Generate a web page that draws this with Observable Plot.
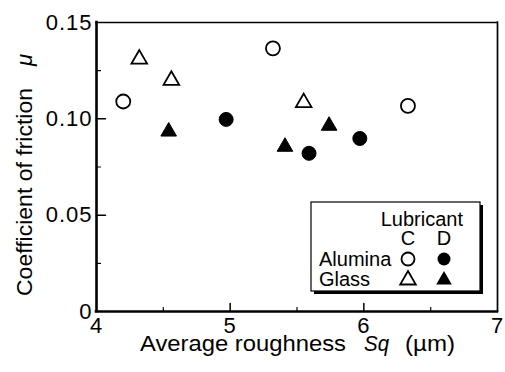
<!DOCTYPE html>
<html><head><meta charset="utf-8">
<script src="https://cdn.jsdelivr.net/npm/d3@7"></script>
<script src="https://cdn.jsdelivr.net/npm/@observablehq/plot@0.6"></script>
<style>body{margin:0;background:#fff} #chart svg{font-family:"Liberation Sans",Arial,sans-serif}</style>
</head><body><div id="chart"></div>
<script>
// Data (Sq in µm, coefficient of friction)
const aluminaC_x = [4.20, 5.32, 6.33];
const aluminaC_y = [0.109, 0.1366, 0.1067];
const aluminaD_x = [4.97, 5.59, 5.97];
const aluminaD_y = [0.0997, 0.0821, 0.0898];
const glassC_x = [4.32, 4.56, 5.55];
const glassC_y = [0.131, 0.120, 0.1084];
const glassD_x = [4.54, 5.41, 5.74];
const glassD_y = [0.0934, 0.0855, 0.0964];

const xTicks = [4, 5, 6, 7];
const xTickLabels = ["4", "5", "6", "7"];
const xMinor = [4.5, 5.5, 6.5];
const yTicks = [0, 0.05, 0.10, 0.15];
const yTickLabels = ["0", "0.05", "0.10", "0.15"];
const yMinor = [0.025, 0.075, 0.125];

const legendTitle = "Lubricant";
const legendCols = ["C", "D"];
const legendRows = ["Alumina", "Glass"];
const xLabelParts = ["Average roughness", "Sq", "(\u00b5m)"];
const yLabelParts = ["Coefficient of friction", "\u03bc"];

const pts = (xs, ys) => xs.map((x, i) => ({x, y: ys[i]}));
const tickShape = {draw(ctx, l) { ctx.moveTo(0, 0); ctx.lineTo(0, -l); }};
const inner = (v) => v.slice(1, -1);

const plot = Plot.plot({
  width: 505, height: 372,
  marginLeft: 96, marginRight: 8, marginTop: 22, marginBottom: 61,
  x: {domain: [4, 7]},
  y: {domain: [0, 0.15]},
  style: {fontFamily: "'Liberation Sans', Arial, sans-serif", color: "black", background: "white", overflow: "visible"},
  marks: [
    Plot.axisX(xTicks, {tickSize: 0, tickPadding: 6, fontSize: 22, label: null,
      tickFormat: d => xTickLabels[xTicks.indexOf(d)]}),
    Plot.axisY(yTicks, {tickSize: 0, tickPadding: 4, fontSize: 22, label: null,
      tickFormat: d => yTickLabels[yTicks.indexOf(d)]}),
    // inward ticks
    Plot.vector(inner(xTicks), {x: d => d, frameAnchor: "bottom", length: 8, anchor: "start", shape: tickShape, stroke: "black", strokeWidth: 1.5}),
    Plot.vector(xMinor, {x: d => d, frameAnchor: "bottom", length: 4, anchor: "start", shape: tickShape, stroke: "black", strokeWidth: 1.2}),
    Plot.vector(inner(yTicks), {y: d => d, frameAnchor: "left", rotate: 90, length: 9, anchor: "start", shape: tickShape, stroke: "black", strokeWidth: 1.5}),
    Plot.vector(yMinor, {y: d => d, frameAnchor: "left", rotate: 90, length: 4, anchor: "start", shape: tickShape, stroke: "black", strokeWidth: 1.2}),
    // frame
    Plot.ruleY([0.15], {stroke: "black", strokeWidth: 1.5, strokeLinecap: "square"}),
    Plot.ruleX([7], {stroke: "black", strokeWidth: 1.7, strokeLinecap: "square"}),
    Plot.ruleX([4], {stroke: "black", strokeWidth: 2.6, strokeLinecap: "square"}),
    Plot.ruleY([0], {stroke: "black", strokeWidth: 2.6, strokeLinecap: "square"}),
    // data
    Plot.dot(pts(aluminaC_x, aluminaC_y), {x: "x", y: "y", r: 7, fill: "white", stroke: "black", strokeWidth: 1.8}),
    Plot.dot(pts(aluminaD_x, aluminaD_y), {x: "x", y: "y", r: 7, fill: "black", stroke: "black", strokeWidth: 1}),
    Plot.dot(pts(glassC_x, glassC_y), {x: "x", y: "y", r: 5.8, symbol: "triangle", fill: "white", stroke: "black", strokeWidth: 1.8}),
    Plot.dot(pts(glassD_x, glassD_y), {x: "x", y: "y", r: 5.8, symbol: "triangle", fill: "black", stroke: "black", strokeWidth: 1})
  ]
});
document.getElementById("chart").appendChild(plot);

const svg = d3.select(plot);
const font = "'Liberation Sans', Arial, sans-serif";
svg.selectAll("g[aria-label='x-axis tick label'] text, g[aria-label='y-axis tick label'] text")
  .style("font-size", "22px").style("letter-spacing", "1px");

// x axis title
const xt = svg.append("g").attr("font-family", font).attr("font-size", 22).attr("fill", "black").attr("text-anchor", "start");
xt.append("text").attr("x", 140).attr("y", 351).attr("textLength", 206).attr("lengthAdjust", "spacingAndGlyphs").text(xLabelParts[0]);
xt.append("text").attr("x", 364).attr("y", 351).attr("font-style", "italic").attr("textLength", 25).attr("lengthAdjust", "spacingAndGlyphs").text(xLabelParts[1]);
xt.append("text").attr("x", 405).attr("y", 351).attr("textLength", 50).attr("lengthAdjust", "spacingAndGlyphs").text(xLabelParts[2]);

// y axis title
const yt = svg.append("g").attr("font-family", font).attr("font-size", 22).attr("fill", "black").attr("text-anchor", "start")
  .attr("transform", "translate(32,0) rotate(-90)");
yt.append("text").attr("x", -296).attr("y", 0).attr("textLength", 208).attr("lengthAdjust", "spacingAndGlyphs").text(yLabelParts[0]);
yt.append("text").attr("x", -66).attr("y", 0).attr("font-style", "italic").text(yLabelParts[1]);

// legend
const lg = svg.append("g").attr("font-family", font).attr("font-size", 20).attr("fill", "black").attr("text-anchor", "start");
lg.append("rect").attr("x", 314).attr("y", 205).attr("width", 169).attr("height", 89).attr("fill", "black");
lg.append("rect").attr("x", 311).attr("y", 202).attr("width", 169).attr("height", 89).attr("fill", "white").attr("stroke", "black").attr("stroke-width", 1.2);
lg.append("text").attr("x", 463).attr("y", 226).attr("text-anchor", "end").text(legendTitle);
const colX = [408, 444];
legendCols.forEach((c, i) => lg.append("text").attr("x", colX[i]).attr("y", 245).attr("text-anchor", "middle").text(c));
const rowY = [265.5, 285.5];
legendRows.forEach((r, i) => lg.append("text").attr("x", 319).attr("y", rowY[i]).text(r));
const circ = d3.symbol(d3.symbolCircle, Math.PI * 6.5 * 6.5)();
const tri = d3.symbol(d3.symbolTriangle, Math.PI * 5.8 * 5.8)();
lg.append("path").attr("d", circ).attr("transform", `translate(${colX[0]},259)`).attr("fill", "white").attr("stroke", "black").attr("stroke-width", 1.8);
lg.append("path").attr("d", circ).attr("transform", `translate(${colX[1]},259)`).attr("fill", "black");
lg.append("path").attr("d", tri).attr("transform", `translate(${colX[0]},280)`).attr("fill", "white").attr("stroke", "black").attr("stroke-width", 1.8);
lg.append("path").attr("d", tri).attr("transform", `translate(${colX[1]},280)`).attr("fill", "black");
</script>
</body></html>
